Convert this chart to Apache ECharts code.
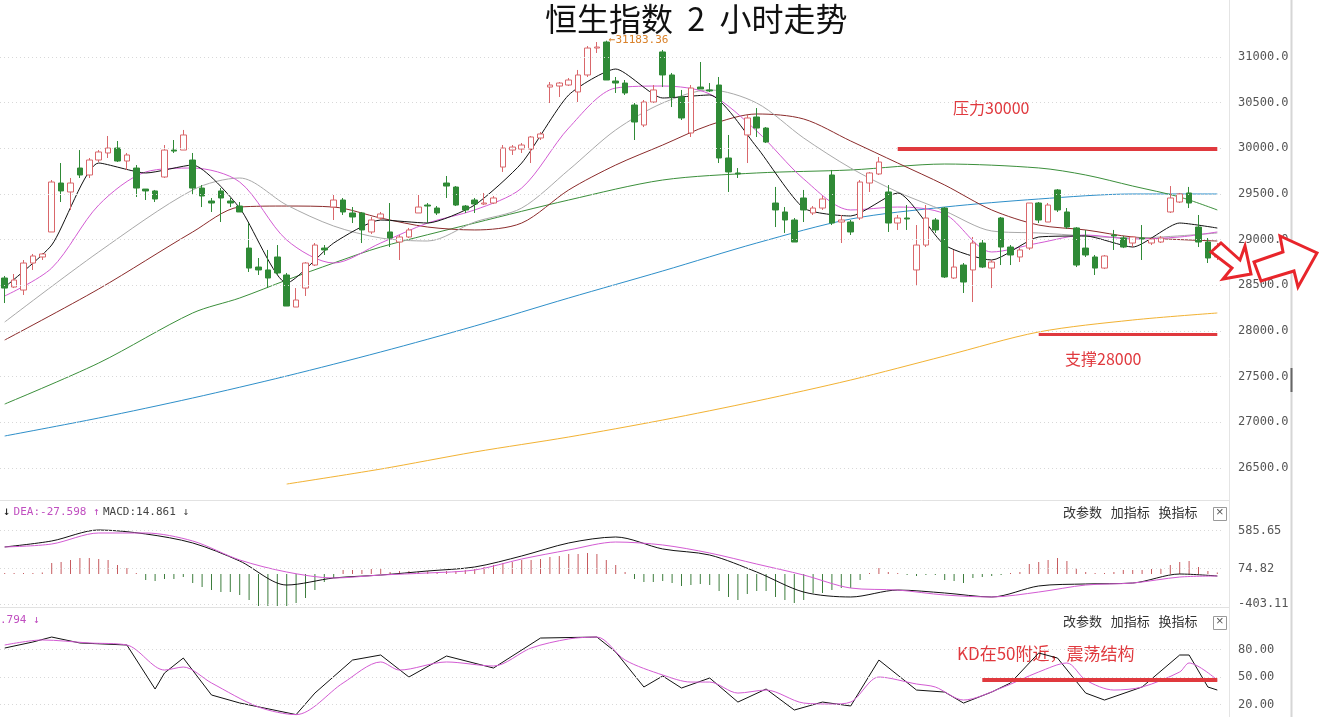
<!DOCTYPE html>
<html>
<head>
<meta charset="utf-8">
<script src="https://cdn.jsdelivr.net/npm/echarts@6/dist/echarts.min.js"></script>
<style>
  html, body { margin: 0; padding: 0; background: #fff; }
  #chart { width: 1321px; height: 717px; }
</style>
</head>
<body>
<div id="chart"></div>
<script>
// 2小时K线
const kOpen = [28580,28481,28448,28744,28810,29084,29620,29522,29784,29708,
  29872,29949,30003,29861,29784,29554,29533,29686,29981,29981,
  29872,29565,29423,29533,29423,29368,28908,28700,28668,28810,
  28613,28262,28470,28722,28908,29357,29434,29292,29292,29084,
  29237,29084,28974,29029,29292,29379,29346,29620,29576,29368,
  29434,29390,29401,29795,29981,29992,29992,30113,30671,30682,
  30693,30617,30803,31098,31164,30737,30715,30474,30255,30507,
  31055,30803,30562,30168,30671,30639,30693,29894,29730,30146,
  30343,30222,29401,29303,29215,29456,29292,29346,29708,29193,
  29193,29237,29620,29719,29522,29182,29237,28668,28941,29215,
  29346,28580,28722,28668,28963,28689,29237,28919,28810,28908,
  29401,29193,29544,29303,29128,28908,28810,28689,29051,29018,
  28963,29018,28963,28974,29303,29412,29511,29138,28974,28810];
const kClose = [28470,28558,28744,28821,28843,29631,29533,29620,29708,29872,
  29960,30003,29861,29927,29565,29533,29445,29981,29970,30146,
  29565,29478,29401,29456,29401,29303,28689,28668,28580,28635,
  28273,28339,28744,28941,28887,29434,29303,29248,29106,29215,
  29281,29018,29029,29106,29357,29368,29292,29587,29379,29325,
  29390,29401,29456,30003,30014,30036,30124,30157,30693,30715,
  30748,30803,31098,31109,30748,30715,30606,30288,30507,30639,
  30803,30562,30332,30660,30649,30628,29894,29741,29719,30332,
  30222,30069,29325,29215,28974,29325,29346,29445,29182,29215,
  29084,29631,29730,29850,29182,29237,29226,28941,29237,29106,
  28591,28700,28536,28963,28700,28755,28919,28832,28887,29401,
  29215,29379,29325,29138,28722,28832,28689,28821,29040,28919,
  29029,29007,29007,29018,29456,29500,29401,28974,28799,28919];
const kLow = [28306,28470,28394,28668,28777,29084,29412,29325,29675,29675,
  29850,29894,29850,29763,29467,29434,29412,29675,29949,29981,
  29489,29357,29303,29193,29357,29303,28646,28613,28470,28613,
  28273,28262,28383,28711,28832,29215,29270,29182,28963,29062,
  29215,28919,28777,29018,29292,29182,29270,29456,29368,29292,
  29292,29379,29390,29741,29927,29949,29839,30091,30496,30562,
  30682,30507,30781,31044,30748,30606,30584,30091,30233,30496,
  30671,30452,30310,30124,30649,30617,29839,29522,29675,29839,
  30124,30058,29138,29073,28974,29193,29270,29325,29160,28963,
  29051,29215,29522,29708,29084,29106,29106,28503,28919,29073,
  28580,28569,28416,28317,28689,28470,28722,28722,28755,28887,
  29182,29193,29303,29117,28700,28810,28613,28678,28887,28908,
  28919,28777,28941,28963,29292,29401,29346,28919,28744,28777];
const kHigh = [28602,28624,28777,28843,28854,29653,29839,29675,29981,29894,
  29981,30135,30080,29949,29817,29554,29544,30036,30091,30201,
  29949,29598,29456,29565,29456,29412,29182,28799,28887,28941,
  28635,28470,28755,28963,28941,29489,29456,29357,29303,29248,
  29303,29401,29051,29128,29489,29401,29368,29697,29587,29379,
  29456,29511,29478,30036,30036,30058,30135,30179,30726,30726,
  30770,30858,31120,31164,31183,30781,30748,30496,30529,30693,
  31077,30825,30639,30693,30945,30715,30781,30146,29784,30365,
  30441,30233,29577,29357,29237,29544,29368,29478,29763,29270,
  29215,29653,29741,29905,29598,29270,29379,29160,29379,29237,
  29357,28887,28744,29029,28996,28777,29248,28941,28908,29401,
  29412,29401,29554,29346,29138,29106,28832,28832,29106,29040,
  29040,29160,29018,29040,29587,29511,29577,29270,29018,28963];

// 均线（按图读取的采样点）
const idx5 = [0,5,10,15,20,25,30,35,40,45,50,55,60,65,70,75,80,85,90,95,100,105,110,115,120,125,129];
const ma5 = [28481,28941,29839,29730,29817,29346,28525,28963,29215,29182,29379,29839,30584,30868,30551,30584,30014,29346,29259,29511,28941,28777,29029,29040,28919,29182,29127];
const ma10 = [28383,28689,29379,29741,29784,29631,28996,28744,28963,29182,29325,29565,30222,30660,30682,30595,30190,29664,29325,29357,29281,28865,28963,29051,29007,29029,29084];
const ma20Idx = [0,10,20,25,30,35,40,45,50,55,60,65,70,75,80,85,90,95,100,105,110,120,129];
const ma20 = [28098,28865,29544,29675,29379,29149,29018,28985,29193,29346,29763,30201,30496,30639,30496,30113,29784,29522,29314,29095,29073,29018,29073];
const ma30Idx = [0,10,20,25,30,35,40,45,50,55,60,65,70,75,80,85,90,95,100,105,110,115,120,129];
const ma30 = [27901,28460,29084,29357,29368,29357,29237,29138,29106,29182,29544,29817,30036,30255,30376,30321,30080,29839,29598,29325,29160,29106,29029,28985];
const ma60Idx = [0,10,20,25,30,35,40,50,60,70,80,90,100,110,115,120,125,129];
const ma60 = [27200,27649,28197,28361,28558,28744,28919,29182,29434,29653,29730,29763,29828,29785,29708,29587,29467,29325];
const ma120Idx = [0,10,20,30,40,50,60,70,80,90,100,110,120,129];
const ma120 = [26850,27047,27266,27507,27770,28054,28361,28657,28963,29226,29357,29445,29500,29500];
const ma250Idx = [30,40,50,60,70,80,90,100,110,120,129];
const ma250 = [26324,26488,26675,26839,27025,27233,27463,27726,27989,28120,28197];

const priceTicks = [26500,27000,27500,28000,28500,29000,29500,30000,30500,31000];

// MACD
const dif = [366,447,596,542,420,176,-149,-54,-14,41,95,244,420,501,339,257,27,-244,-311,-217,-257,-311,-162,-135,-122,0,-27];
const dea = [366,406,555,555,447,190,27,-54,-14,14,54,203,325,433,393,284,135,-14,-190,-217,-284,-311,-244,-149,-122,-41,-27];
const macdBars = [14,14,14,14,20,149,162,190,217,217, 203,190,122,81,14,-81,-95,-68,-68,-41,
  -122,-176,-217,-244,-244,-284,-352,-433,-433,-433, -460,-393,-325,-217,-108,-54,54,54,54,68,
  68,27,41,41,27,41,27,41,41,54, 68,95,122,149,162,190,190,203,230,244,
  271,271,284,271,190,122,27,-68,-108,-108, -95,-122,-162,-149,-135,-149,-230,-311,-352,-271,
  -230,-230,-311,-352,-393,-352,-257,-257,-217,-190, -190,-81,14,81,27,14,-14,-27,-14,-14,
  -81,-95,-122,-54,-41,-27,-14,14,27,135, 162,190,217,176,81,27,14,14,27,54,
  54,54,68,68,122,162,176,95,41,20];
const macdTicks = [585.65, 74.82, -403.11];

// KD
const kIdx = [0,3,5,8,13,16,17,19,22,25,31,33,37,40,43,47,52,57,63,65,68,70,72,75,78,81,84,87,90,93,97,100,102,105,107,110,112,115,117,121,125,126,128,129];
const kVal = [81.6,88.2,93.6,87.1,84.9,36.9,54.4,70.7,30.4,21.7,9,32.5,68.5,74,50,72.9,59.8,92.5,93.6,77.3,39.1,51.1,38,48.9,22.7,36.9,14,22.7,18.4,68.5,35.8,33.6,21.6,33.6,43.5,76.2,70.7,32.5,24.9,39.1,74,74,39.1,35.8];
const dIdx = [0,4,9,13,17,19,22,27,31,36,40,42,47,52,56,60,63,66,70,73,75,78,81,85,88,90,93,97,99,102,106,110,113,115,118,121,125,126,129];
const dVal = [84.9,90.4,87.1,84.9,57.6,60.9,43.5,17.3,9,43.5,66.4,57.6,66.4,62,81.6,91.5,93.6,68.5,52.2,44.5,44.5,32.5,35.8,21.6,20.5,22.7,50,42.4,39.1,24.9,38,55.5,65.3,46.7,35.8,39.1,55.5,65.3,46.7];
const kdTicks = [80, 50, 20];

const N = kOpen.length;
const cats = kOpen.map((_, i) => 'T' + (i + 1));
const candles = kOpen.map((o, i) => [o, kClose[i], kLow[i], kHigh[i]]);

function sparse(idx, vals) {
  const arr = new Array(N).fill(null);
  idx.forEach((k, j) => { arr[k] = vals[j]; });
  return arr;
}

const RED = '#e0393e';
const numFont = '"DejaVu Sans Mono", monospace';

function gridLines(ticks, fmt) {
  return ticks.map(v => ({
    yAxis: v,
    lineStyle: { color: '#d8d8d8', type: [1, 3], width: 1 },
    label: { show: true, position: 'end', distance: 16, formatter: fmt(v), color: '#555', fontSize: 12, fontFamily: numFont }
  }));
}

function maLine(name, data, color, xi, smooth) {
  return {
    name, type: 'line', data, xAxisIndex: xi, yAxisIndex: xi,
    connectNulls: true, showSymbol: false, smooth: smooth,
    lineStyle: { color, width: 1 }, silent: true, z: 3
  };
}

const chart = echarts.init(document.getElementById('chart'));
chart.setOption({
  animation: false,
  backgroundColor: '#fff',
  title: {
    text: '恒生指数  2  小时走势', left: 540, top: -2,
    textStyle: { fontSize: 32, fontWeight: 'normal', color: '#111', fontFamily: '"Noto Sans CJK SC"' }
  },
  grid: [
    { left: 0, width: 1222, top: 20, height: 475 },
    { left: 0, width: 1222, top: 520, height: 86 },
    { left: 0, width: 1222, top: 612, height: 105 }
  ],
  xAxis: [0, 1, 2].map(i => ({ type: 'category', data: cats, gridIndex: i, show: false, boundaryGap: true })),
  yAxis: [
    { gridIndex: 0, min: 26204, max: 31405, show: false },
    { gridIndex: 1, min: -433, max: 731, show: false },
    { gridIndex: 2, min: 6.4, max: 120.9, show: false }
  ],
  series: [
    {
      type: 'candlestick', data: candles, barWidth: 6, z: 4,
      itemStyle: { color: '#fff', color0: '#2f8a36', borderColor: '#d9676b', borderColor0: '#2f8a36', borderWidth: 1 },
      markLine: {
        silent: true, symbol: ['none', 'none'],
        data: gridLines(priceTicks, v => v.toFixed(1)).concat([
          { yAxis: 27157.6, lineStyle: { opacity: 0 },
            label: { show: true, position: 'end', distance: 16, formatter: '27157.6', color: '#333', fontSize: 12, fontFamily: numFont } },
          [{ coord: [cats[95], 30000], lineStyle: { color: RED, width: 4, type: 'solid' }, label: { show: false } },
           { coord: [cats[129], 30000] }],
          [{ coord: [cats[110], 27960], lineStyle: { color: RED, width: 3, type: 'solid' }, label: { show: false } },
           { coord: [cats[129], 27960] }]
        ])
      },
      markPoint: {
        symbol: 'circle', symbolSize: 1,
        data: [{ coord: [cats[64], 31183.36],
          label: { show: true, position: 'right', distance: 2, formatter: '←31183.36', color: '#d9822b', fontSize: 11, fontFamily: numFont } }]
      }
    },
    maLine('MA250', sparse(ma250Idx, ma250), '#f2b233', 0, 0.3),
    maLine('MA120', sparse(ma120Idx, ma120), '#2e8fc9', 0, 0.3),
    maLine('MA60', sparse(ma60Idx, ma60), '#3b8f3b', 0, 0.3),
    maLine('MA30', sparse(ma30Idx, ma30), '#8b2b2b', 0, 0.3),
    maLine('MA20', sparse(ma20Idx, ma20), '#a9a9a9', 0, 0.3),
    maLine('MA10', sparse(idx5, ma10), '#d35bd3', 0, 0.3),
    maLine('MA5', sparse(idx5, ma5), '#111', 0, 0.2),
    {
      type: 'bar', data: macdBars, xAxisIndex: 1, yAxisIndex: 1, barWidth: 1,
      itemStyle: { color: p => p.value >= 0 ? '#c65a5e' : '#3d7d3d' },
      markLine: { silent: true, symbol: ['none', 'none'], data: gridLines(macdTicks, v => v.toFixed(2)) }
    },
    maLine('DIF', sparse(idx5, dif), '#111', 1, 0.3),
    maLine('DEA', sparse(idx5, dea), '#d35bd3', 1, 0.3),
    {
      name: 'K', type: 'line', data: sparse(kIdx, kVal), xAxisIndex: 2, yAxisIndex: 2,
      connectNulls: true, showSymbol: false, lineStyle: { color: '#111', width: 1 }, z: 3,
      markLine: {
        silent: true, symbol: ['none', 'none'],
        data: gridLines(kdTicks, v => v.toFixed(2)).concat([
          [{ coord: [cats[104], 46.5], lineStyle: { color: RED, width: 4, type: 'solid' }, label: { show: false } },
           { coord: [cats[129], 46.5] }]
        ])
      }
    },
    maLine('D', sparse(dIdx, dVal), '#d35bd3', 2, 0.3)
  ],
  graphic: [
    { type: 'line', shape: { x1: 0, y1: 500.5, x2: 1229, y2: 500.5 }, style: { stroke: '#e2e2e2', lineWidth: 1 } },
    { type: 'line', shape: { x1: 0, y1: 607.5, x2: 1229, y2: 607.5 }, style: { stroke: '#e2e2e2', lineWidth: 1 } },
    { type: 'line', shape: { x1: 1229.5, y1: 0, x2: 1229.5, y2: 717 }, style: { stroke: '#e4e4e4', lineWidth: 1 } },
    { type: 'line', shape: { x1: 1291.5, y1: 0, x2: 1291.5, y2: 717 }, style: { stroke: '#d6d6d6', lineWidth: 2 } },
    { type: 'line', shape: { x1: 1291.5, y1: 368, x2: 1291.5, y2: 392 }, style: { stroke: '#666', lineWidth: 2 } },
    { type: 'text', left: 953, top: 100, style: { text: '压力30000', fill: RED, font: '16px "Noto Sans CJK SC"' } },
    { type: 'text', left: 1065, top: 351, style: { text: '支撑28000', fill: RED, font: '16px "Noto Sans CJK SC"' } },
    { type: 'text', left: 957, top: 645, style: { text: 'KD在50附近，震荡结构', fill: RED, font: '17px "Noto Sans CJK SC"' } },
    { type: 'text', left: 3, top: 506, style: {
      text: '{a|↓} {b|DEA:-27.598 ↑} {c|MACD:14.861 ↓}',
      rich: { a: { fill: '#111', font: '12px ' + numFont }, b: { fill: '#c04fc0', font: '11px ' + numFont }, c: { fill: '#444', font: '11px ' + numFont } } } },
    { type: 'text', left: 0, top: 615, style: { text: '.794 ↓', fill: '#c04fc0', font: '11px ' + numFont } },
    { type: 'text', left: 1063, top: 506, style: { text: '改参数   加指标   换指标', fill: '#333', font: '13px "Noto Sans CJK SC"' } },
    { type: 'text', left: 1063, top: 615, style: { text: '改参数   加指标   换指标', fill: '#333', font: '13px "Noto Sans CJK SC"' } },
    { type: 'rect', shape: { x: 1213.5, y: 507.5, width: 13, height: 13 }, style: { fill: '#fff', stroke: '#999' } },
    { type: 'text', left: 1216, top: 506, style: { text: '×', fill: '#555', font: '13px sans-serif' } },
    { type: 'rect', shape: { x: 1213.5, y: 616.5, width: 13, height: 13 }, style: { fill: '#fff', stroke: '#999' } },
    { type: 'text', left: 1216, top: 615, style: { text: '×', fill: '#555', font: '13px sans-serif' } },
    { type: 'polygon', shape: { points: [[1211,252],[1221,243],[1240,260],[1245,246],[1251,274],[1223,279],[1232,268]] },
      style: { fill: '#fff', stroke: '#e8252b', lineWidth: 3 }, z: 100 },
    { type: 'polygon', shape: { points: [[1254,262],[1283,252],[1280,236],[1317,253],[1298,287],[1294,271],[1261,281]] },
      style: { fill: '#fff', stroke: '#e8252b', lineWidth: 3 }, z: 100 }
  ]
});
</script>
</body>
</html>
